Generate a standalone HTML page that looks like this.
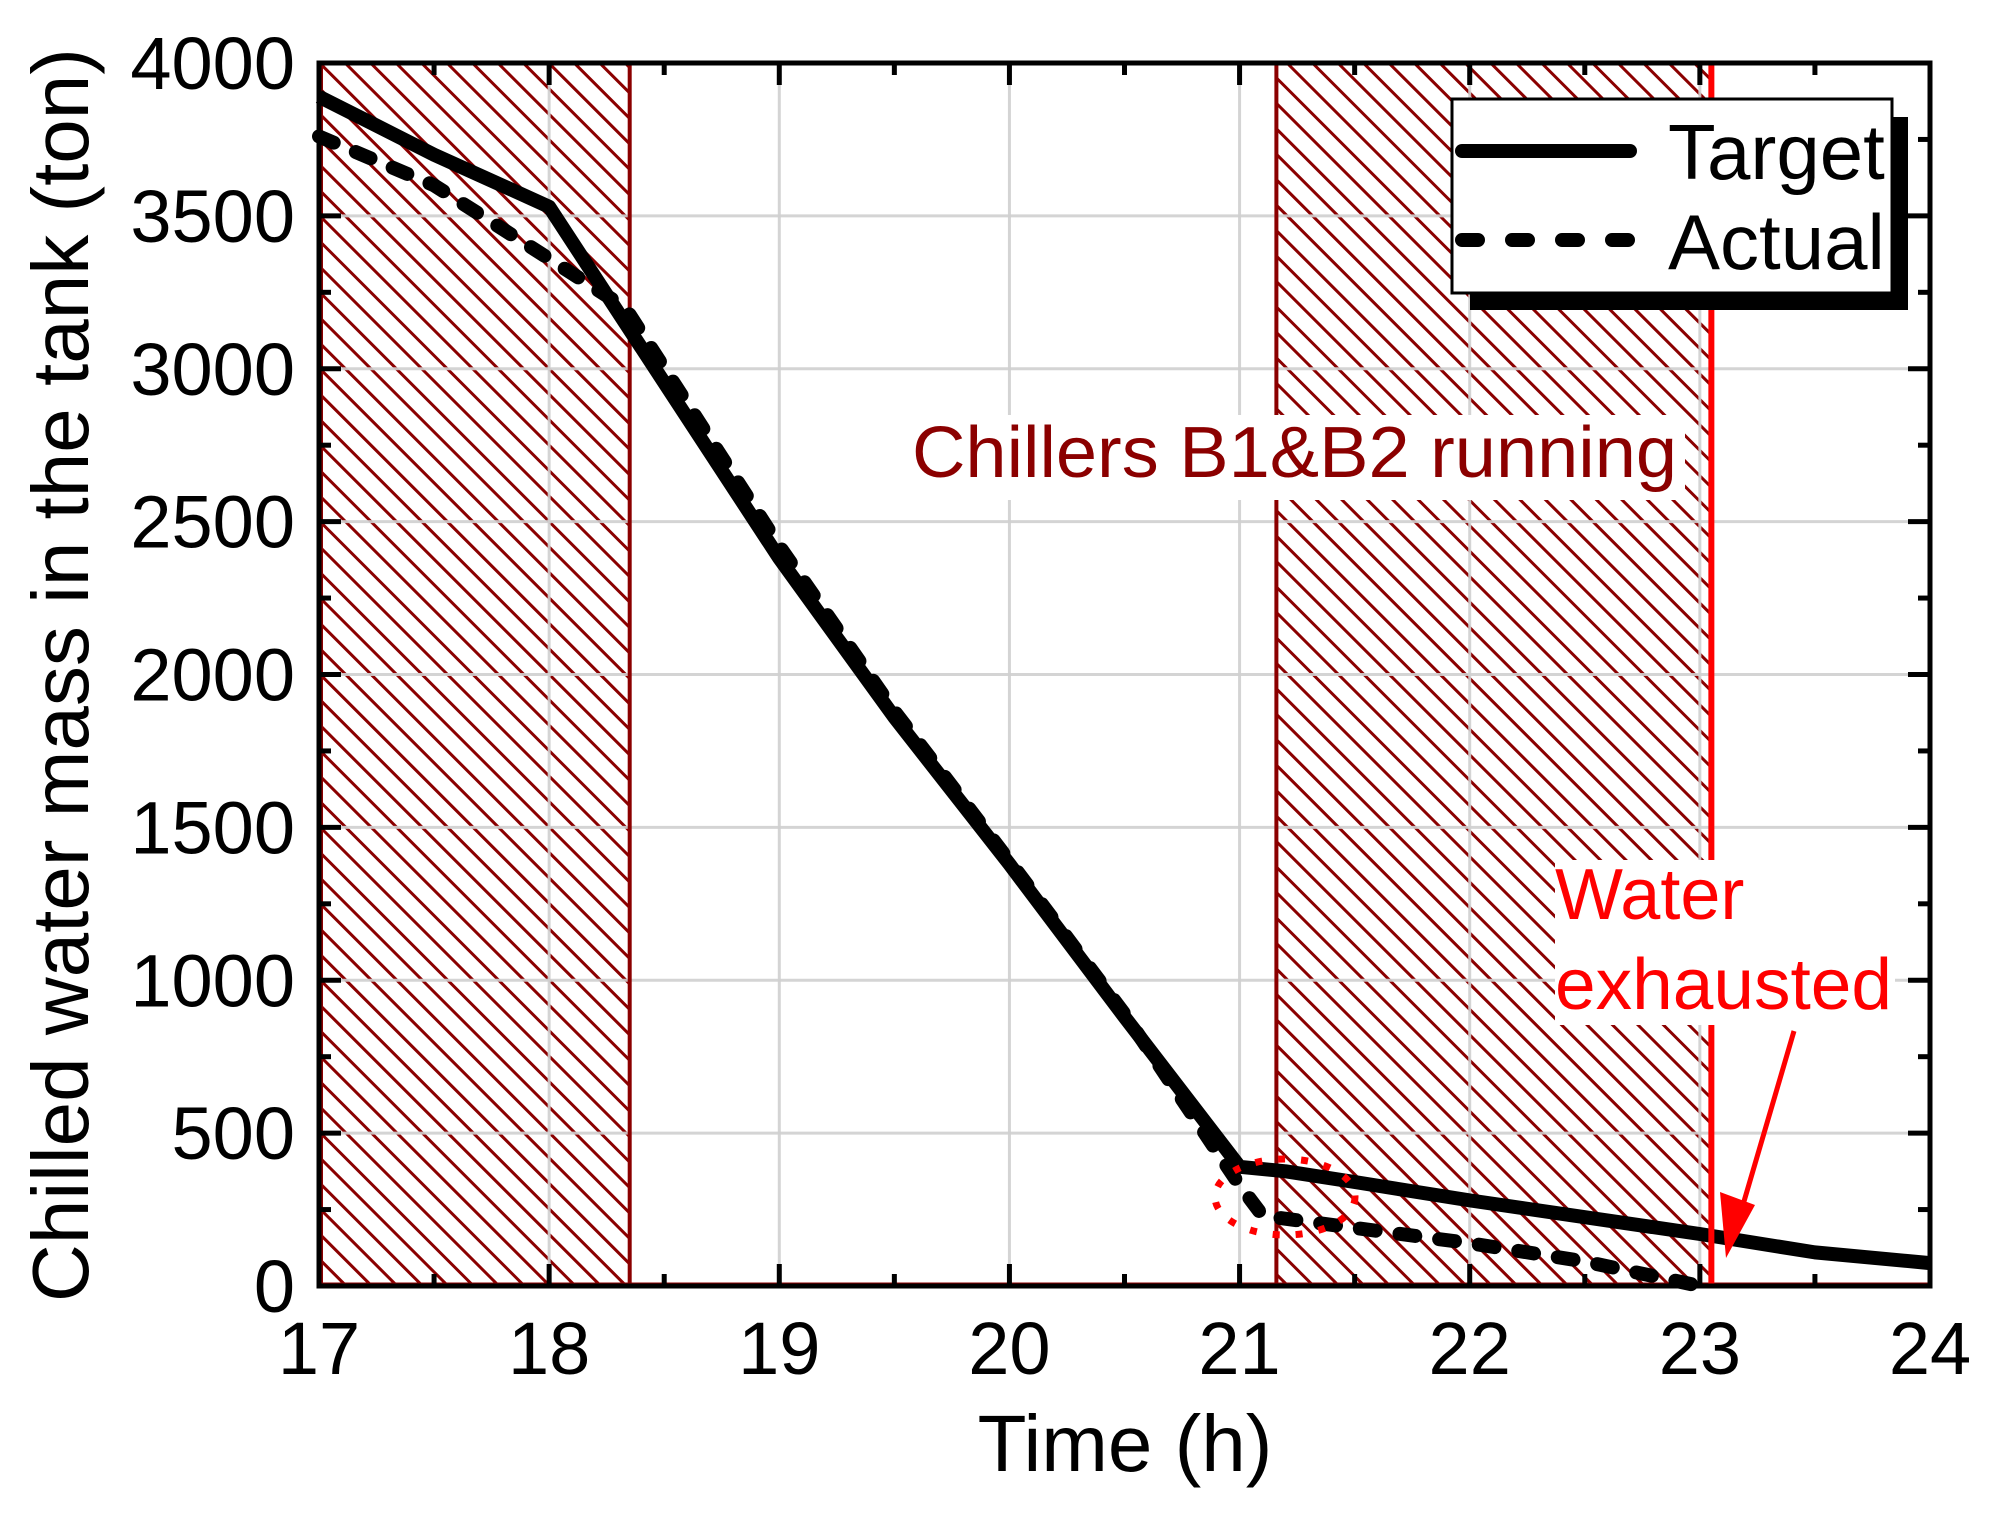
<!DOCTYPE html>
<html><head><style>body{margin:0;background:#fff}svg{display:block}</style></head>
<body>
<svg id="s" width="1995" height="1516" xmlns="http://www.w3.org/2000/svg" font-family="Liberation Sans, Arial, sans-serif">
<defs>
<pattern id="h" patternUnits="userSpaceOnUse" width="18" height="18" patternTransform="rotate(-45)">
<rect width="18" height="18" fill="#fff"/>
<line x1="0" y1="0" x2="0" y2="18" stroke="#8b0000" stroke-width="6"/>
</pattern>
</defs>
<g id="g"></g>
</svg>
<script>
const L=319,R=1930,T=63,B=1286;
const X=h=>L+(h-17)*(R-L)/7, Y=v=>B-v*(B-T)/4000;
let s='';
s+=`<rect x="${L}" y="${T}" width="${X(18.35)-L}" height="${B-T}" fill="url(#h)"/>`;
s+=`<rect x="${X(21.16)}" y="${T}" width="${X(23.04)-X(21.16)}" height="${B-T}" fill="url(#h)"/>`;
for(let h=18;h<24;h++)s+=`<line x1="${X(h)}" y1="${T}" x2="${X(h)}" y2="${B}" stroke="#d0d0d0" stroke-width="3" opacity="0.9"/>`;
for(let v=500;v<4000;v+=500)s+=`<line x1="${L}" y1="${Y(v)}" x2="${R}" y2="${Y(v)}" stroke="#d0d0d0" stroke-width="3" opacity="0.9"/>`;
s+=`<line x1="${X(18.35)}" y1="${T}" x2="${X(18.35)}" y2="${B}" stroke="#8b0000" stroke-width="4"/>`;
s+=`<line x1="${X(21.16)}" y1="${T}" x2="${X(21.16)}" y2="${B}" stroke="#8b0000" stroke-width="4"/>`;
s+=`<line x1="${L+2}" y1="${T}" x2="${L+2}" y2="${B}" stroke="#8b0000" stroke-width="4"/>`;
s+=`<line x1="${L}" y1="${B-2}" x2="${R}" y2="${B-2}" stroke="#8b0000" stroke-width="3"/>`;
s+=`<rect x="905" y="415" width="780" height="85" fill="#fff"/>`;
s+=`<text x="912" y="477" font-size="72" fill="#8b0000" textLength="765" lengthAdjust="spacingAndGlyphs">Chillers B1&amp;B2 running</text>`;
const tg=[[17,3890],[17.5,3700],[18,3530],[18.33,3150],[19,2380],[19.5,1860],[20,1380],[20.5,880],[21,390],[21.2,375],[21.5,340],[22,280],[22.5,225],[23,170],[23.5,110],[24,75]];
const ac=[[17,3760],[17.5,3600],[18,3360],[18.33,3200],[19,2420],[19.5,1880],[20,1390],[20.5,890],[21,330],[21.1,230],[21.5,190],[22,140],[22.5,80],[23,0]];
const P=a=>a.map(p=>X(p[0]).toFixed(1)+','+Y(p[1]).toFixed(1)).join(' ');
s+=`<polyline points="${P(tg)}" fill="none" stroke="#000" stroke-width="14" stroke-linejoin="round"/>`;
s+=`<polyline points="${P(ac)}" fill="none" stroke="#000" stroke-width="14" stroke-dasharray="16 24" stroke-linecap="round"/>`;
s+=`<line x1="${X(23.05)}" y1="${T}" x2="${X(23.05)}" y2="${B}" stroke="#ff0000" stroke-width="6"/>`;
s+=`<ellipse cx="1285" cy="1197" rx="70" ry="38" fill="none" stroke="#ff0000" stroke-width="7" stroke-dasharray="7 16"/>`;
s+=`<line x1="1794" y1="1031" x2="1740" y2="1215" stroke="#ff0000" stroke-width="5"/>`;
s+=`<polygon points="1720,1192 1755,1205 1726,1258" fill="#ff0000"/>`;
s+=`<rect x="1555" y="860" width="340" height="165" fill="#fff"/>`;
s+=`<text x="1555" y="919" font-size="72" fill="#ff0000">Water</text>`;
s+=`<text x="1555" y="1009" font-size="72" fill="#ff0000" textLength="337" lengthAdjust="spacingAndGlyphs">exhausted</text>`;
s+=`<rect x="${L}" y="${T}" width="${R-L}" height="${B-T}" fill="none" stroke="#000" stroke-width="5"/>`;
for(let h=17;h<=24;h+=0.5){const len=h%1==0?22:12,x=X(h);
 s+=`<line x1="${x}" y1="${B}" x2="${x}" y2="${B-len}" stroke="#000" stroke-width="5"/><line x1="${x}" y1="${T}" x2="${x}" y2="${T+len}" stroke="#000" stroke-width="5"/>`;
 if(h%1==0)s+=`<text x="${x}" y="1374" font-size="74" text-anchor="middle">${h}</text>`;}
for(let v=0;v<=4000;v+=250){const len=v%500==0?22:12,y=Y(v);
 s+=`<line x1="${L}" y1="${y}" x2="${L+len}" y2="${y}" stroke="#000" stroke-width="5"/><line x1="${R}" y1="${y}" x2="${R-len}" y2="${y}" stroke="#000" stroke-width="5"/>`;
 if(v%500==0)s+=`<text x="295" y="${y+26}" font-size="74" text-anchor="end">${v}</text>`;}
s+=`<text x="1125" y="1471" font-size="80" text-anchor="middle">Time (h)</text>`;
s+=`<text transform="translate(88,675) rotate(-90)" font-size="80" text-anchor="middle">Chilled water mass in the tank (ton)</text>`;
s+=`<rect x="1470" y="117" width="438" height="193" fill="#000"/>`;
s+=`<rect x="1452" y="99" width="440" height="194" fill="#fff" stroke="#000" stroke-width="3"/>`;
s+=`<line x1="1462" y1="151" x2="1630" y2="151" stroke="#000" stroke-width="14" stroke-linecap="round"/>`;
s+=`<line x1="1462" y1="240" x2="1630" y2="240" stroke="#000" stroke-width="14" stroke-dasharray="16 34" stroke-linecap="round"/>`;
s+=`<text x="1668" y="179" font-size="78">Target</text>`;
s+=`<text x="1668" y="269" font-size="78">Actual</text>`;
document.getElementById('g').innerHTML=s;
</script>
</body></html>
